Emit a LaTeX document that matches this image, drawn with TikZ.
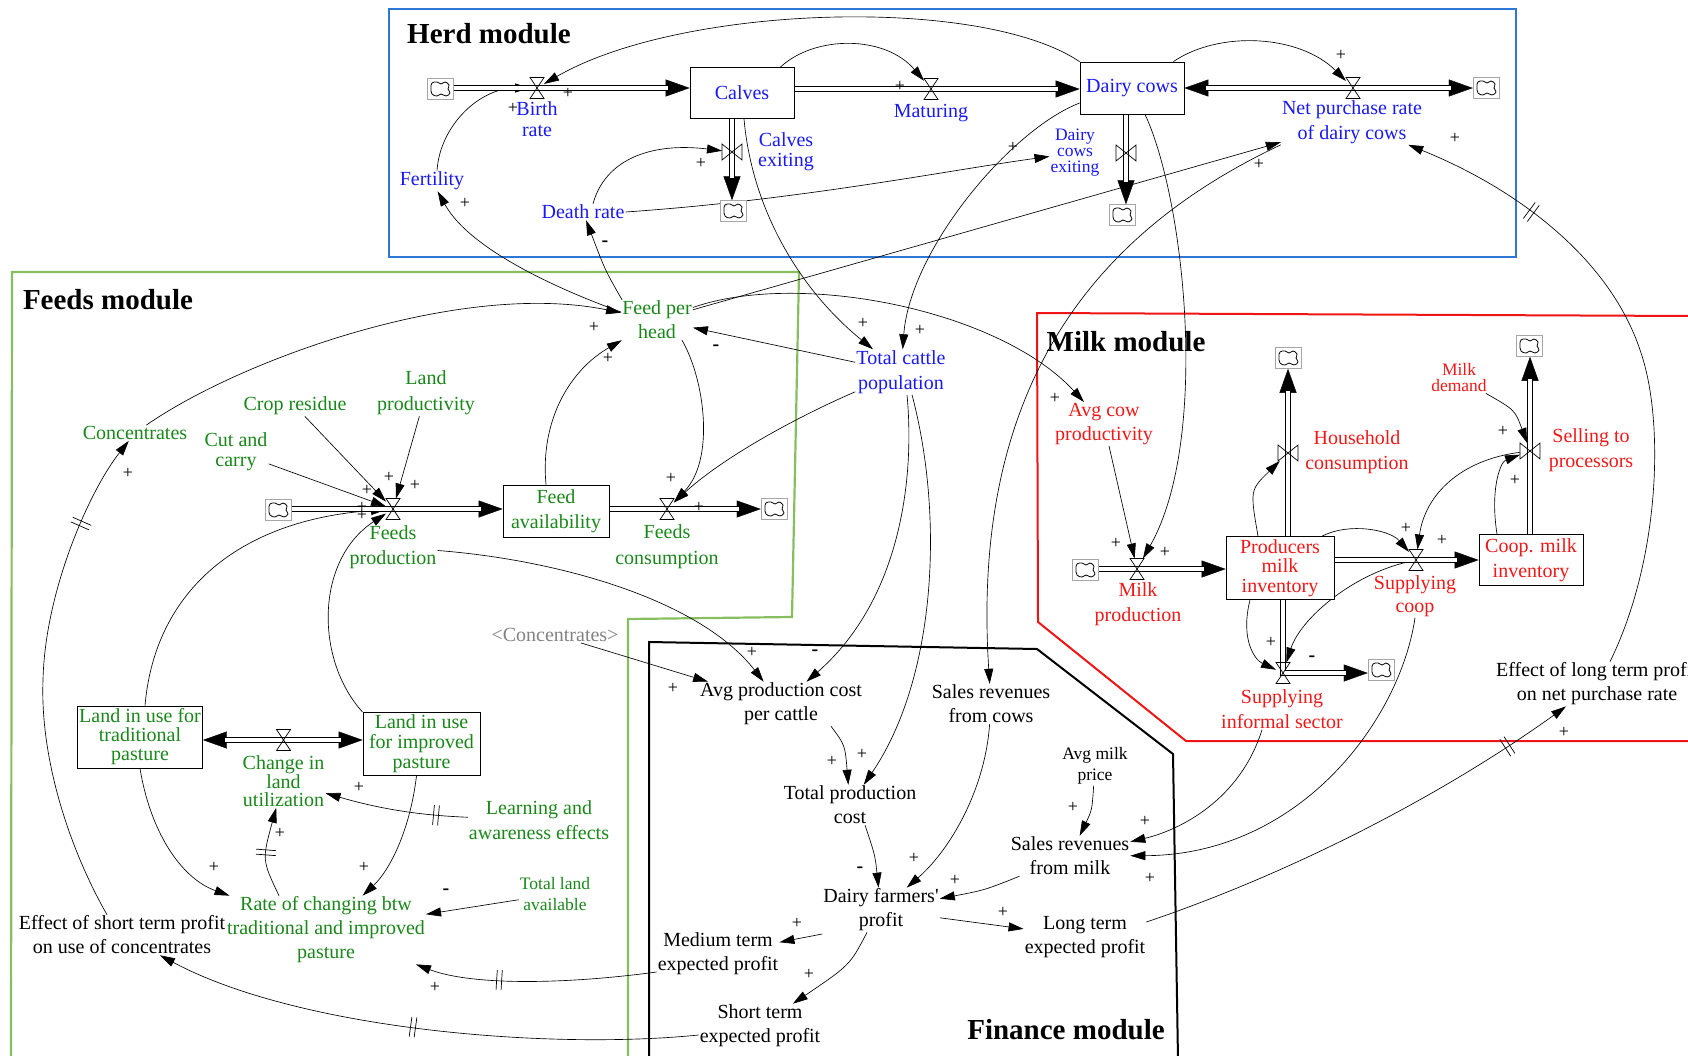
\documentclass[tikz,border=0pt]{standalone}
\usepackage{fontspec}
\setmainfont{Liberation Serif}
\usetikzlibrary{arrows.meta,decorations.markings,calc}
\pgfdeclarelayer{bg}
\pgfsetlayers{bg,main}

\definecolor{herdblue}{RGB}{25,25,245}
\definecolor{feedgreen}{RGB}{25,135,25}
\definecolor{milkred}{RGB}{240,25,25}
\definecolor{herdframe}{RGB}{45,120,215}
\definecolor{feedframe}{RGB}{135,190,95}
\definecolor{milkframe}{RGB}{240,20,20}
\definecolor{refgray}{RGB}{130,130,130}

\tikzset{
  vtxt/.style={align=center, inner sep=1pt, font=\fontsize{20}{24}\selectfont},
  herdv/.style={vtxt, text=herdblue},
  feedv/.style={vtxt, text=feedgreen},
  milkv/.style={vtxt, text=milkred},
  finv/.style={vtxt, text=black},
  lsp/.style={font=\fontsize{20}{#1}\selectfont},
  smallv/.style={font=\fontsize{17.5}{#1}\selectfont},
  stockbox/.style={draw=black, line width=0.8pt, fill=white, inner sep=0pt, align=center, font=\fontsize{20}{24}\selectfont},
  hstock/.style={stockbox, text=herdblue},
  fstock/.style={stockbox, text=feedgreen},
  mstock/.style={stockbox, text=milkred},
  modtitle/.style={font=\fontsize{29}{32}\selectfont\bfseries, inner sep=0pt},
  valvebox/.style={inner sep=0pt, outer sep=0pt},
  valveline/.style={draw=black, line width=0.7pt},
  cloudframe/.style={draw=black!35, line width=0.5pt, fill=white, minimum width=26pt, minimum height=21pt, inner sep=0pt},
  cloudline/.style={draw=black, line width=0.8pt},
  link/.style={-{Triangle[length=15pt,width=9pt]}, line width=0.65pt},
  pipe/.style={line width=0.85pt, double=white, double distance=4pt},
  ptip/.style={-{Triangle[length=24pt,width=17pt]}, line width=0.4pt},
  ptips/.style={{Triangle[length=24pt,width=17pt]}-{Triangle[length=24pt,width=17pt]}, line width=0.4pt},
  pol/.style={font=\fontsize{18}{18}\selectfont, inner sep=0pt},
  polm/.style={font=\fontsize{20}{20}\selectfont\bfseries, inner sep=0pt},
  dly/.style={postaction={decorate, decoration={markings, mark=at position #1 with {\draw[-, line width=0.7pt] (-2.5pt,-10pt) -- (-2.5pt,10pt) (2.5pt,-10pt) -- (2.5pt,10pt);}}}},
}

% rate valve on a horizontal pipe (hourglass) and on a vertical pipe (bow tie)
\newcommand\mkvalveh[2]{\node[valvebox, minimum width=14pt, minimum height=21pt] (#1) at (#2) {};
  \draw[valveline] (#1.north west) -- (#1.north east) -- (#1.south west) -- (#1.south east) -- cycle;}
\newcommand\mkvalvev[2]{\node[valvebox, minimum width=20pt, minimum height=16pt] (#1) at (#2) {};
  \draw[valveline] (#1.north west) -- (#1.south west) -- (#1.north east) -- (#1.south east) -- cycle;}
% source / sink cloud in a grey frame
\newcommand\mkcloud[2]{\node[cloudframe] (#1) at (#2) {};
  \draw[cloudline, shift={(#2)}] plot[smooth cycle, tension=0.7] coordinates {(-9,-1) (-8,-6) (-3,-7) (1,-5) (5,-7) (9,-4) (8,0) (10,4) (6,7) (1,5) (-3,7) (-8,5)};}

\begin{document}
\begin{tikzpicture}[x=1pt,y=-1pt]
\useasboundingbox (0,0) rectangle (1688,1055);
\clip (0,0) rectangle (1688,1055);

% module titles
\node[modtitle] (tHerd) at (489,34) {Herd module};
\node[modtitle] (tFeeds) at (108,300) {Feeds module};
\node[modtitle] (tMilk) at (1126,342) {Milk module};
\node[modtitle] (tFin) at (1066,1030) {Finance module};

% ---------------- herd ----------------
\node[hstock, minimum width=104pt, minimum height=51pt] (Calves) at (742,93) {Calves};
\node[hstock, minimum width=104pt, minimum height=52pt] (DC) at (1132,88) {Dairy cows};
\node[herdv] (Fert) at (432,181) {Fertility};
\node[herdv] (Death) at (583,212) {Death rate};
\node[herdv, lsp=21] (BirthL) at (537,119) {Birth\\rate};
\node[herdv] (MatL) at (931,113) {Maturing};
\node[herdv, lsp=25] (NPL) at (1352,122) {Net purchase rate\\of dairy cows};
\node[herdv, lsp=20] (CEL) at (786,152) {Calves\\exiting};
\node[herdv, smallv=16] (DEL) at (1075,153) {Dairy\\cows\\exiting};
\node[herdv, lsp=25] (TCP) at (901,372) {Total cattle\\population};
\mkvalveh{vBirth}{537,88}
\mkvalveh{vMat}{931,89}
\mkvalveh{vNet}{1353,88}
\mkvalvev{vCE}{732,152}
\mkvalvev{vDE}{1126,153}
\mkcloud{cH1}{440,89}
\mkcloud{cH2}{1486,88}
\mkcloud{cH3}{733,211}
\mkcloud{cH4}{1122,215}

% ---------------- feeds ----------------
\node[fstock, minimum width=106pt, minimum height=52pt, lsp=25] (FA) at (556,511) {Feed\\availability};
\node[fstock, lsp=19, minimum width=125pt, minimum height=62pt] (LT) at (140,737) {Land in use  for\\traditional\\pasture};
\node[fstock, lsp=20, minimum width=117pt, minimum height=63pt] (LI) at (421.5,744) {Land in use\\for improved\\pasture};
\node[feedv] (FPH) at (657,320) {Feed per\\head};
\node[feedv, lsp=25] (FPL) at (393,547) {Feeds\\production};
\node[feedv, lsp=26] (FCL) at (667,547) {Feeds\\consumption};
\node[feedv] (Conc) at (135,433) {Concentrates};
\node[feedv] (CropR) at (295,406) {Crop residue};
\node[feedv, lsp=26] (LandP) at (426,393) {Land\\productivity};
\node[feedv, lsp=20] (CutC) at (236,452) {Cut and\\carry};
\node[feedv, lsp=18] (CLL) at (283.5,781) {Change in\\land\\utilization};
\node[feedv, lsp=25] (Learn) at (539,820) {Learning and\\awareness effects};
\node[feedv, smallv=21] (TLA) at (555,894) {Total land\\available};
\node[feedv, lsp=24] (Rate) at (326,930) {Rate of changing btw\\traditional and improved\\pasture};
\node[vtxt, text=refgray] (ConcRef) at (555,635) {<Concentrates>};
\mkvalveh{vFP}{393,509}
\mkvalveh{vFC}{667,509}
\mkvalveh{vCL}{283.5,740}
\mkcloud{cF1}{278,510}
\mkcloud{cF2}{774,509}

% ---------------- finance ----------------
\node[finv] (EffShort) at (122,935) {Effect of short term profit\\on use of concentrates};
\node[finv] (AvgCost) at (781,704) {Avg production cost\\per cattle};
\node[finv] (SalesCows) at (991,704) {Sales revenues\\from cows};
\node[finv] (TotalCost) at (850,805) {Total production\\cost};
\node[finv, smallv=21] (AMP) at (1095,766) {Avg milk\\price};
\node[finv] (SalesMilk) at (1070,856) {Sales revenues\\from milk};
\node[finv] (Profit) at (881,910) {Dairy farmers\textquotesingle\\profit};
\node[finv] (MedTerm) at (718,954) {Medium term\\expected profit};
\node[finv] (LongTerm) at (1085,937) {Long term\\expected profit};
\node[finv] (ShortTerm) at (760,1026) {Short term\\expected profit};
\node[finv] (EffLong) at (1597,684) {Effect of long term profit\\on net purchase rate};

% ---------------- milk ----------------
\node[mstock, lsp=19.5, minimum width=108pt, minimum height=63pt] (Prod) at (1280,568) {Producers\\milk\\inventory};
\node[mstock, lsp=25, minimum width=104pt, minimum height=51pt] (Coop) at (1531,560) {Coop. milk\\inventory};
\node[milkv] (ACP) at (1104,424) {Avg cow\\productivity};
\node[milkv, lsp=25] (MPL) at (1138,604) {Milk\\production};
\node[milkv, lsp=25] (HCL) at (1357,452) {Household\\consumption};
\node[milkv, lsp=23] (SCL) at (1415,596) {Supplying\\coop};
\node[milkv, lsp=25] (SPL) at (1591,450) {Selling to\\processors};
\node[milkv, smallv=16] (MD) at (1459,378) {Milk\\demand};
\node[milkv, lsp=25] (SIL) at (1282,709) {Supplying\\informal sector};
\mkvalveh{vMP}{1137,569}
\mkvalvev{vHC}{1288,453}
\mkvalveh{vSC}{1416,560}
\mkvalvev{vSP}{1530,451}
\mkvalveh{vSI}{1283,673}
\mkcloud{cM1}{1085,570}
\mkcloud{cM2}{1288,358}
\mkcloud{cM3}{1529,346}
\mkcloud{cM4}{1381,670}

% ---------------- polarity signs ----------------
\node[pol] (s1) at (568,93) {+};
\node[pol] (s2) at (513,108) {+};
\node[pol] (s3) at (465,203) {+};
\node[polm] (s4) at (605,244) {-};
\node[pol] (s5) at (701,163) {+};
\node[pol] (s6) at (1013,147) {+};
\node[pol] (s7) at (900,86) {+};
\node[pol] (s8) at (1341,55) {+};
\node[pol] (s9) at (1259,164) {+};
\node[pol] (s10) at (1455,138) {+};
\node[pol] (s11) at (863,323) {+};
\node[pol] (s12) at (920,330) {+};
\node[pol] (s13) at (594,327) {+};
\node[pol] (s14) at (608,358) {+};
\node[polm] (s15) at (716,348) {-};
\node[pol] (s16) at (671,478) {+};
\node[pol] (s17) at (699,507) {+};
\node[pol] (s18) at (389,477) {+};
\node[pol] (s19) at (415,485) {+};
\node[pol] (s20) at (367,490) {+};
\node[pol] (s21) at (362,507) {+};
\node[pol] (s22) at (362,515) {+};
\node[pol] (s23) at (128,473) {+};
\node[pol] (s24) at (359,787) {+};
\node[pol] (s25) at (280,833) {+};
\node[pol] (s26) at (214,867) {+};
\node[pol] (s27) at (364,867) {+};
\node[polm] (s28) at (446,892) {-};
\node[pol] (s29) at (435,987) {+};
\node[pol] (s30) at (752,652) {+};
\node[pol] (s31) at (673,688) {+};
\node[polm] (s32) at (815,653) {-};
\node[pol] (s33) at (832,761) {+};
\node[pol] (s34) at (862,754) {+};
\node[polm] (s35) at (860,870) {-};
\node[pol] (s36) at (914,858) {+};
\node[pol] (s37) at (955,880) {+};
\node[pol] (s38) at (1073,807) {+};
\node[pol] (s39) at (1145,821) {+};
\node[pol] (s40) at (1150,878) {+};
\node[pol] (s41) at (797,923) {+};
\node[pol] (s42) at (809,974) {+};
\node[pol] (s43) at (1003,912) {+};
\node[pol] (s44) at (1564,732) {+};
\node[pol] (s45) at (1055,398) {+};
\node[pol] (s46) at (1116,543) {+};
\node[pol] (s47) at (1165,552) {+};
\node[pol] (s48) at (1406,528) {+};
\node[pol] (s49) at (1442,540) {+};
\node[pol] (s50) at (1503,431) {+};
\node[pol] (s51) at (1515,480) {+};
\node[pol] (s52) at (1271,642) {+};
\node[polm] (s53) at (1312,659) {-};

\begin{pgfonlayer}{bg}
% module frames
\draw[draw=herdframe, line width=2.2pt] (389,9) rectangle (1516,257);
\draw[draw=feedframe, line width=2.2pt] (11,1060) -- (12,272) -- (799,272) -- (792,617) -- (628,619) -- (628,1060);
\draw[draw=milkframe, line width=2pt] (1690,316) -- (1037,313) -- (1038,622) -- (1186,741) -- (1690,741);
\draw[draw=black, line width=2pt] (649,1060) -- (649,642) -- (1037,649) -- (1173,754) -- (1178,1060);

% herd links
\draw[link] (DC.north west) .. controls (980,-5) and (680,5) .. (vBirth);
\draw[link] ([xshift=5pt]Fert.north) .. controls (440,125) and (480,88) .. (vBirth);
\draw[link] ([xshift=-14pt]Calves.north east) .. controls (815,35) and (885,35) .. (vMat);
\draw[link] ([xshift=-11pt]DC.north east) .. controls (1220,30) and (1300,35) .. (vNet);
\draw[link] ([xshift=10pt]Death.north) .. controls (605,160) and (650,142) .. (vCE);
\draw[link] (Death.east) .. controls (800,200) and (950,170) .. (DEL);
\draw[link] ([yshift=8pt]FPH.west) .. controls (560,290) and (470,250) .. (Fert);
\draw[link] ([xshift=-35pt]FPH.north) .. controls (605,270) .. (Death);
\draw[link] ([xshift=2pt]Calves.south) .. controls (752,210) and (800,290) .. (TCP);
\draw[link] ([yshift=-15pt]DC.west) .. controls (1010,130) and (910,250) .. (TCP);
\draw[link] ([xshift=13pt]DC.south) .. controls (1185,200) and (1210,440) .. (vMP);
\draw[link] (FPH) -- (NPL);
\draw[link] (NPL.south west) .. controls (1100,230) and (970,380) .. (SalesCows);

% feeds links
\draw[link] (TCP) -- (FPH);
\draw[link] (TCP) .. controls (790,420) and (720,460) .. (vFC);
\draw[link] ([xshift=25pt]FPH.south) .. controls (705,380) and (715,460) .. (vFC);
\draw[link] (Conc) .. controls (240,360) and (460,280) .. (FPH);
\draw[link] ([xshift=-10pt]FA.north) .. controls (540,420) and (570,370) .. (FPH);
\draw[link] (CropR) -- (vFP);
\draw[link] (CutC) -- (vFP);
\draw[link] (LandP) -- (vFP);
\draw[link] ([xshift=5pt]LT.north) .. controls (155,590) and (240,520) .. (vFP);
\draw[link] (LI.north west) .. controls (315,660) and (315,560) .. (vFP);
\draw[link] (FPL) .. controls (560,560) and (700,600) .. (AvgCost);
\draw[link] (ConcRef) -- (AvgCost);
\draw[link, dly=0.22] (Learn) .. controls (410,815) and (370,806) .. (CLL);
\draw[link, dly=0.5] ([xshift=-47pt]Rate.north) .. controls (262,860) .. (CLL);
\draw[link] (LT.south) .. controls (150,830) and (180,878) .. (Rate);
\draw[link] ([xshift=-5pt]LI.south) .. controls (410,830) and (390,870) .. (Rate);
\draw[link] (TLA) -- (Rate);
\draw[link, dly=0.65] ([yshift=-18pt]MedTerm.west) .. controls (560,985) and (470,985) .. (Rate);
\draw[link, dly=0.52] ([yshift=-9pt]ShortTerm.west) .. controls (550,1050) and (300,1030) .. (EffShort);
\draw[link, dly=0.81] ([xshift=-15pt]EffShort.north) .. controls (70,850) and (40,760) .. (43,680) .. controls (45,590) and (90,490) .. (Conc);

% finance links
\draw[link] ([xshift=6pt]TCP.south) .. controls (915,480) and (900,600) .. (AvgCost);
\draw[link] ([xshift=11pt]TCP.south) .. controls (945,520) and (935,680) .. (TotalCost);
\draw[link] ([xshift=50pt]AvgCost.south) .. controls (845,745) .. (TotalCost);
\draw[link] ([xshift=15pt]TotalCost.south) .. controls (875,855) .. (Profit);
\draw[link] (SalesCows) .. controls (985,790) and (950,850) .. (Profit);
\draw[link] (AMP) .. controls (1092,810) .. (SalesMilk);
\draw[link] (SalesMilk) .. controls (985,890) .. (Profit);
\draw[link] ([yshift=-24pt]Profit.west) -- (MedTerm);
\draw[link] ([xshift=-14pt]Profit.south) .. controls (850,965) .. (ShortTerm);
\draw[link] (Profit) -- (LongTerm);
\draw[link, dly=0.85] ([yshift=15pt]LongTerm.east) .. controls (1300,870) and (1450,790) .. (EffLong);
\draw[link, dly=0.78] ([xshift=13pt]EffLong.north) .. controls (1660,560) and (1665,420) .. (1640,350) .. controls (1610,260) and (1520,190) .. (NPL);
\draw[link] ([xshift=-20pt]SIL.south) .. controls (1240,800) and (1180,830) .. (SalesMilk);
\draw[link] (SCL.south) .. controls (1400,720) and (1300,855) .. (SalesMilk);

% milk links
\draw[link] (ACP) -- (vMP);
\draw[link] (FPH) .. controls (800,270) and (1000,310) .. (ACP);
\draw[link] ([xshift=-22pt]Prod.north) .. controls (1250,490) .. (vHC);
\draw[link] ([xshift=42pt]Prod.north) .. controls (1350,522) and (1390,530) .. (vSC);
\draw[link] (MD) .. controls (1515,410) .. (vSP);
\draw[link] ([xshift=-34pt]Coop.north) .. controls (1490,490) and (1500,462) .. (vSP);
\draw[link] (vSP) .. controls (1460,460) and (1425,495) .. (vSC);
\draw[link] ([xshift=-30pt]Prod.south) .. controls (1240,640) and (1255,660) .. (vSI);
\draw[link] (vSC) .. controls (1350,575) and (1300,620) .. (vSI);

% stock-and-flow pipes
\draw[ptip] (cH1.east |- vBirth) -- (Calves.west |- vBirth);
\draw[pipe, shorten >=22pt] (cH1.east |- vBirth) -- (Calves.west |- vBirth);
\draw[ptip] (Calves.east |- vMat) -- (DC.west |- vMat);
\draw[pipe, shorten >=22pt] (Calves.east |- vMat) -- (DC.west |- vMat);
\draw[ptips] (DC.east |- vNet) -- (cH2.west |- vNet);
\draw[pipe, shorten <=22pt, shorten >=22pt] (DC.east |- vNet) -- (cH2.west |- vNet);
\draw[ptip] (vCE |- Calves.south) -- (vCE |- cH3.north);
\draw[pipe, shorten >=22pt] (vCE |- Calves.south) -- (vCE |- cH3.north);
\draw[ptip] (vDE |- DC.south) -- (vDE |- cH4.north);
\draw[pipe, shorten >=22pt] (vDE |- DC.south) -- (vDE |- cH4.north);
\draw[ptip] (cF1.east |- vFP) -- (FA.west |- vFP);
\draw[pipe, shorten >=22pt] (cF1.east |- vFP) -- (FA.west |- vFP);
\draw[ptip] (FA.east |- vFC) -- (cF2.west |- vFC);
\draw[pipe, shorten >=22pt] (FA.east |- vFC) -- (cF2.west |- vFC);
\draw[ptips] (LT.east |- vCL) -- (LI.west |- vCL);
\draw[pipe, shorten <=22pt, shorten >=22pt] (LT.east |- vCL) -- (LI.west |- vCL);
\draw[ptip] (cM1.east |- vMP) -- (Prod.west |- vMP);
\draw[pipe, shorten >=22pt] (cM1.east |- vMP) -- (Prod.west |- vMP);
\draw[ptip] (Prod.east |- vSC) -- (Coop.west |- vSC);
\draw[pipe, shorten >=22pt] (Prod.east |- vSC) -- (Coop.west |- vSC);
\draw[ptip] (vHC |- Prod.north) -- (vHC |- cM2.south);
\draw[pipe, shorten >=22pt] (vHC |- Prod.north) -- (vHC |- cM2.south);
\draw[ptip] (vSP |- Coop.north) -- (vSP |- cM3.south);
\draw[pipe, shorten >=22pt] (vSP |- Coop.north) -- (vSP |- cM3.south);
\draw[ptip] (vSI |- Prod.south) -- (vSI.center) -- (cM4.west |- vSI);
\draw[pipe, shorten >=22pt] (vSI |- Prod.south) -- (vSI.center) -- (cM4.west |- vSI);
\end{pgfonlayer}
\end{tikzpicture}
\end{document}
